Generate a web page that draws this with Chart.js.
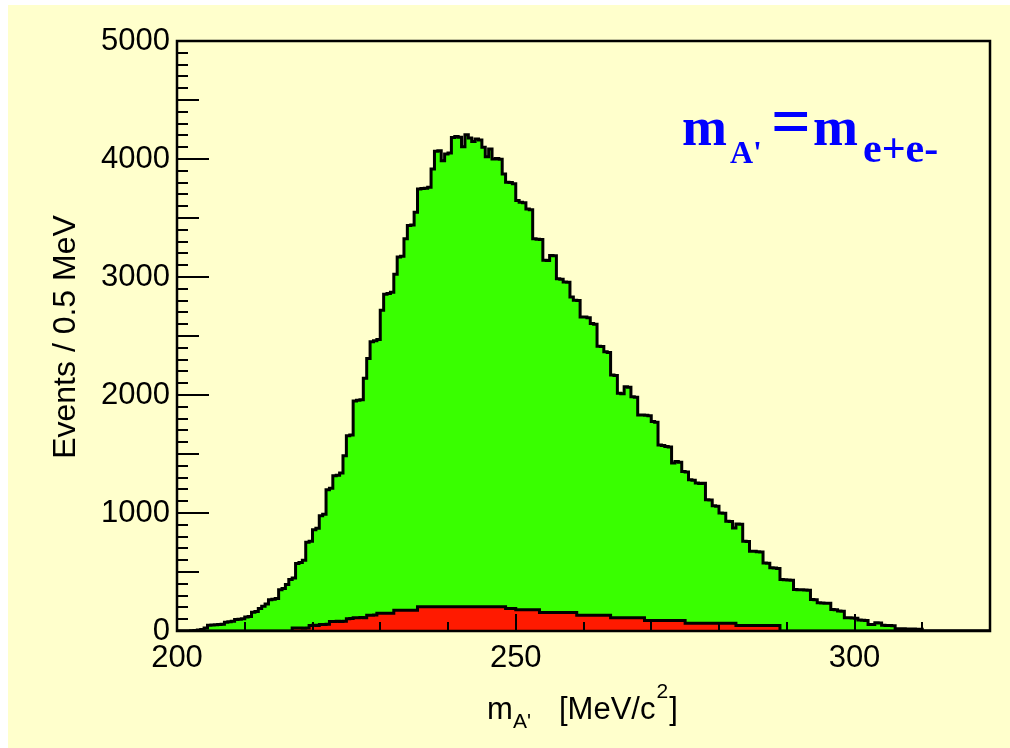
<!DOCTYPE html>
<html lang="en">
<head>
<meta charset="utf-8">
<script src="https://cdn.jsdelivr.net/npm/chart.js"></script>
<title>m_A' invariant mass</title>
<style>
  html, body { margin: 0; padding: 0; background: #fff; }
</style>
</head>
<body>
<canvas id="myChart" width="1010" height="748"></canvas>
<script>
// histogram binning (MeV)
const binWidth = 0.5;
const xMin = 200, xMax = 320;
const yMax = 5000;

// green: all e+e- pairs, bins start at 202.0 MeV
const greenStart = 202;
const greenCounts = [
  3, 5, 8, 12, 25, 48, 50, 52, 55, 58,
  74, 78, 82, 98, 100, 104, 118, 122, 158, 165,
  190, 210, 228, 265, 270, 275, 350, 360, 395, 437,
  450, 572, 580, 600, 752, 760, 859, 870, 977, 990,
  1197, 1210, 1315, 1320, 1340, 1485, 1654, 1660, 1949, 1955,
  1960, 2141, 2310, 2451, 2460, 2470, 2718, 2854, 2860, 2870,
  3023, 3169, 3175, 3324, 3437, 3440, 3549, 3746, 3750, 3752,
  3760, 3915, 4065, 4070, 3986, 4042, 4050, 4183, 4190, 4185,
  4104, 4206, 4177, 4149, 4169, 4160, 4099, 4020, 4085, 4000,
  4005, 3998, 3873, 3803, 3800, 3790, 3648, 3634, 3630, 3577,
  3570, 3324, 3320, 3318, 3141, 3140, 3183, 3180, 2986, 2980,
  2958, 2955, 2831, 2803, 2800, 2662, 2660, 2655, 2606, 2600,
  2414, 2410, 2366, 2360, 2169, 2165, 2014, 2010, 2070, 2065,
  1986, 1980, 1831, 1830, 1828, 1825, 1775, 1770, 1577, 1572,
  1563, 1560, 1423, 1437, 1430, 1352, 1348, 1282, 1278, 1254,
  1250, 1253, 1113, 1110, 1062, 1058, 1000, 998, 930, 928,
  873, 907, 905, 760, 758, 676, 675, 672, 670, 577,
  575, 535, 533, 530, 437, 435, 432, 430, 352, 350,
  350, 348, 345, 268, 265, 239, 238, 236, 235, 183,
  180, 169, 168, 113, 112, 110, 108, 93, 92, 90,
  56, 55, 70, 68, 48, 47, 46, 45, 20, 19,
  20, 18, 17, 16, 15, 14
];

// red: subset, bins start at 217.0 MeV
const redStart = 217;
const redCounts = [
  25, 25, 25, 24, 26, 47, 48, 47, 56, 56,
  57, 81, 80, 82, 81, 83, 103, 105, 113, 113,
  114, 113, 134, 134, 135, 150, 150, 150, 150, 150,
  175, 175, 175, 175, 175, 175, 175, 206, 206, 206,
  206, 206, 206, 206, 206, 206, 206, 206, 206, 206,
  206, 206, 206, 206, 206, 206, 206, 206, 206, 206,
  206, 206, 206, 190, 190, 190, 181, 181, 181, 181,
  181, 181, 181, 156, 156, 156, 156, 156, 156, 156,
  156, 156, 156, 156, 134, 134, 134, 134, 134, 134,
  134, 134, 134, 134, 113, 113, 113, 113, 113, 113,
  113, 113, 113, 113, 88, 88, 88, 88, 88, 88,
  88, 88, 88, 88, 88, 88, 66, 66, 66, 66,
  66, 66, 66, 66, 66, 66, 66, 66, 66, 66,
  66, 47, 47, 47, 47, 47, 47, 47, 47, 47,
  47, 47, 47, 47
];

const xTickLabels = [200, 250, 300];
const yTickLabels = [0, 1000, 2000, 3000, 4000, 5000];

// step points at the low edge of each bin
function histPoints(start, counts) {
  const pts = [{x: xMin, y: 0}];
  counts.forEach((c, i) => pts.push({x: start + i * binWidth, y: c}));
  pts.push({x: start + counts.length * binWidth, y: 0});
  pts.push({x: xMax, y: 0});
  return pts;
}

Chart.defaults.font.family = '"Liberation Sans", Arial, sans-serif';
Chart.defaults.color = '#000';

const rootStyle = {
  id: 'rootStyle',
  beforeDraw(chart) {
    const ctx = chart.ctx;
    ctx.save();
    ctx.fillStyle = '#ffffff';
    ctx.fillRect(0, 0, chart.width, chart.height);
    ctx.fillStyle = '#ffffcc';
    ctx.fillRect(8, 5, chart.width - 8, chart.height - 5);
    ctx.restore();
  },
  afterDatasetsDraw(chart) {
    const {ctx, chartArea: a, scales: {x, y}} = chart;
    ctx.save();
    ctx.strokeStyle = '#000';
    ctx.lineWidth = 2;
    // ROOT style ticks, inside the frame
    for (let v = 0; v <= yMax; v += 100) {
      const len = v % 1000 === 0 ? 32 : (v % 500 === 0 ? 22 : 11);
      const py = Math.round(y.getPixelForValue(v));
      ctx.beginPath();
      ctx.moveTo(a.left, py);
      ctx.lineTo(a.left + len, py);
      ctx.stroke();
    }
    for (let v = xMin + 10; v < xMax; v += 10) {
      const len = v % 50 === 0 ? 17 : 9;
      const px = Math.round(x.getPixelForValue(v));
      ctx.beginPath();
      ctx.moveTo(px, a.bottom);
      ctx.lineTo(px, a.bottom - len);
      ctx.stroke();
    }
    ctx.lineWidth = 2.5;
    ctx.strokeRect(a.left, a.top, a.right - a.left, a.bottom - a.top);
    ctx.restore();
  },
  afterDraw(chart) {
    const ctx = chart.ctx;
    ctx.save();
    ctx.fillStyle = '#000';
    ctx.textBaseline = 'alphabetic';
    ctx.textAlign = 'left';
    // x title
    ctx.font = '31px "Liberation Sans"';
    ctx.fillText('m', 487, 719);
    ctx.font = '21px "Liberation Sans"';
    ctx.fillText("A'", 513, 728);
    ctx.font = '31px "Liberation Sans"';
    ctx.fillText('[MeV/c', 559, 719);
    let w = ctx.measureText('[MeV/c').width;
    ctx.font = '21px "Liberation Sans"';
    ctx.fillText('2', 559 + w + 1, 698);
    let w2 = ctx.measureText('2').width;
    ctx.font = '31px "Liberation Sans"';
    ctx.fillText(']', 559 + w + w2 + 2, 719);
    // y title
    ctx.save();
    ctx.translate(66, 337);
    ctx.rotate(-Math.PI / 2);
    ctx.textAlign = 'center';
    ctx.textBaseline = 'middle';
    ctx.font = '32px "Liberation Sans"';
    ctx.fillText('Events / 0.5 MeV', 0, 0);
    ctx.restore();
    // blue label
    ctx.fillStyle = '#0000ff';
    ctx.font = 'bold 54px "Liberation Serif"';
    ctx.fillText('m', 682, 145);
    ctx.font = 'bold 32px "Liberation Serif"';
    ctx.fillText("A'", 730, 163);
    ctx.font = 'bold 70px "Liberation Serif"';
    ctx.fillText('=', 771, 145);
    ctx.font = 'bold 54px "Liberation Serif"';
    ctx.fillText('m', 813, 145);
    ctx.font = 'bold 42px "Liberation Serif"';
    ctx.fillText('e+e-', 863, 162);
    ctx.restore();
  }
};

new Chart(document.getElementById('myChart'), {
  type: 'line',
  data: {
    datasets: [
      {
        label: 'red',
        data: histPoints(redStart, redCounts),
        stepped: true,
        fill: 'origin',
        backgroundColor: '#ff1a00',
        borderColor: '#000',
        borderWidth: 3,
        pointRadius: 0,
        order: 1
      },
      {
        label: 'green',
        data: histPoints(greenStart, greenCounts),
        stepped: true,
        fill: 'origin',
        backgroundColor: '#39ff00',
        borderColor: '#000',
        borderWidth: 3,
        pointRadius: 0,
        order: 2
      }
    ]
  },
  options: {
    responsive: false,
    animation: false,
    devicePixelRatio: 1,
    layout: { padding: { top: 41, right: 20, left: 0, bottom: 0 } },
    plugins: { legend: { display: false }, tooltip: { enabled: false } },
    scales: {
      x: {
        type: 'linear',
        min: xMin,
        max: xMax,
        grid: { display: false, drawTicks: false },
        border: { display: false },
        afterBuildTicks: s => { s.ticks = xTickLabels.map(v => ({value: v})); },
        afterFit: s => { s.height = 117; },
        ticks: { font: { size: 31 }, padding: 9, maxRotation: 0, autoSkip: false, callback: v => String(v) }
      },
      y: {
        type: 'linear',
        min: 0,
        max: yMax,
        grid: { display: false, drawTicks: false },
        border: { display: false },
        afterBuildTicks: s => { s.ticks = yTickLabels.map(v => ({value: v})); },
        afterFit: s => { s.width = 177; },
        ticks: { font: { size: 31 }, padding: 7, autoSkip: false, callback: v => String(v) }
      }
    }
  },
  plugins: [rootStyle]
});
</script>
</body>
</html>
